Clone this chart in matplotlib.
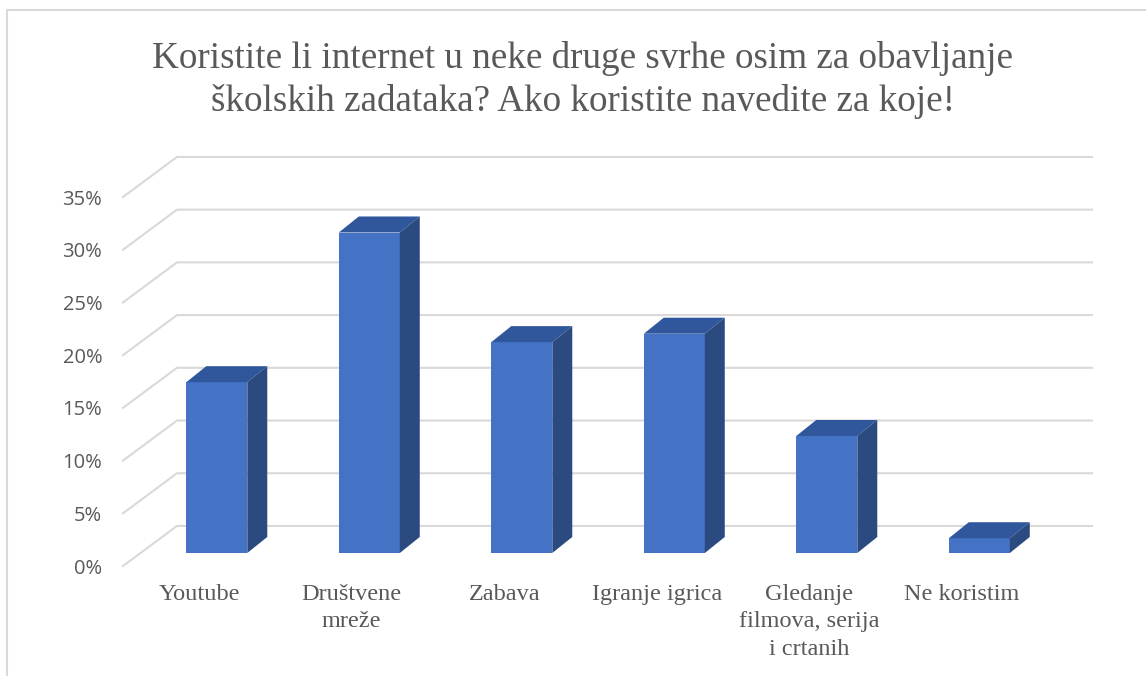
import matplotlib.pyplot as plt
from matplotlib.patches import Polygon, Rectangle

# data
categories = ['Youtube', 'Društvene\nmreže', 'Zabava', 'Igranje igrica',
              'Gledanje\nfilmova, serija\ni crtanih', 'Ne koristim']
values = [16.2, 30.4, 20.0, 20.8, 11.1, 1.4]
y_ticks = [0, 5, 10, 15, 20, 25, 30, 35]
y_labels = ['0%', '5%', '10%', '15%', '20%', '25%', '30%', '35%']
title = ('Koristite li internet u neke druge svrhe osim za obavljanje\n'
         'školskih zadataka? Ako koristite navedite za koje!')

W, H = 1146, 676
fig = plt.figure(figsize=(W / 100, H / 100), dpi=100)
fig.patch.set_facecolor('white')

# pseudo 3d offsets (x in category slots, y in percent)
wall_dx, wall_dy = 0.354, 3.8
bar_dx, bar_dy = 0.115, 1.233
depth_dx, depth_dy = 0.131, 1.52
bar_w = 0.4
n = len(categories)
xmax = n - 0.5 + wall_dx

ax = fig.add_axes([123 / W, (H - 566) / H, 969 / W, 421.7 / H])
ax.set_xlim(-0.5, xmax)
ax.set_ylim(0, 40)
for s in ax.spines.values():
    s.set_visible(False)

grid_c = '#D9D9D9'
for t in y_ticks:
    ax.plot([-0.5, -0.5 + wall_dx, xmax], [t, t + wall_dy, t + wall_dy],
            color=grid_c, lw=1.5, zorder=0, clip_on=False)

front_c, top_c, side_c = '#4472C4', '#30579B', '#2A4A80'
fx = [i + bar_dx for i in range(n)]
ax.bar(fx, values, width=bar_w, bottom=bar_dy, color=front_c, zorder=3)
for x, v in zip(fx, values):
    l, r = x - bar_w / 2, x + bar_w / 2
    top = bar_dy + v
    ax.add_patch(Polygon([(l, top), (r, top), (r + depth_dx, top + depth_dy),
                          (l + depth_dx, top + depth_dy)],
                         closed=True, facecolor=top_c, edgecolor='none', zorder=3))
    ax.add_patch(Polygon([(r, bar_dy), (r, top), (r + depth_dx, top + depth_dy),
                          (r + depth_dx, bar_dy + depth_dy)],
                         closed=True, facecolor=side_c, edgecolor='none', zorder=3))

txt_c = '#595959'
ax.set_xticks(range(n), categories, family='Liberation Serif', fontsize=17.5,
              color=txt_c, linespacing=1.4)
ax.set_yticks(y_ticks, y_labels, family='Open Sans', fontsize=14.5, color=txt_c)
ax.tick_params(axis='x', length=0, pad=13)
ax.tick_params(axis='y', length=0, pad=15)

fig.text(583 / W, 1 - 80 / H, title, ha='center', va='center',
         family='Liberation Serif', fontsize=26.7, color=txt_c, linespacing=1.29)

# chart area frame
fig.add_artist(Rectangle((7 / W, -0.1), 1.2, 1 - 10 / H + 0.1,
                         transform=fig.transFigure, fill=False,
                         edgecolor='#D9D9D9', lw=1.5))

fig.savefig('out.png', dpi=100)
